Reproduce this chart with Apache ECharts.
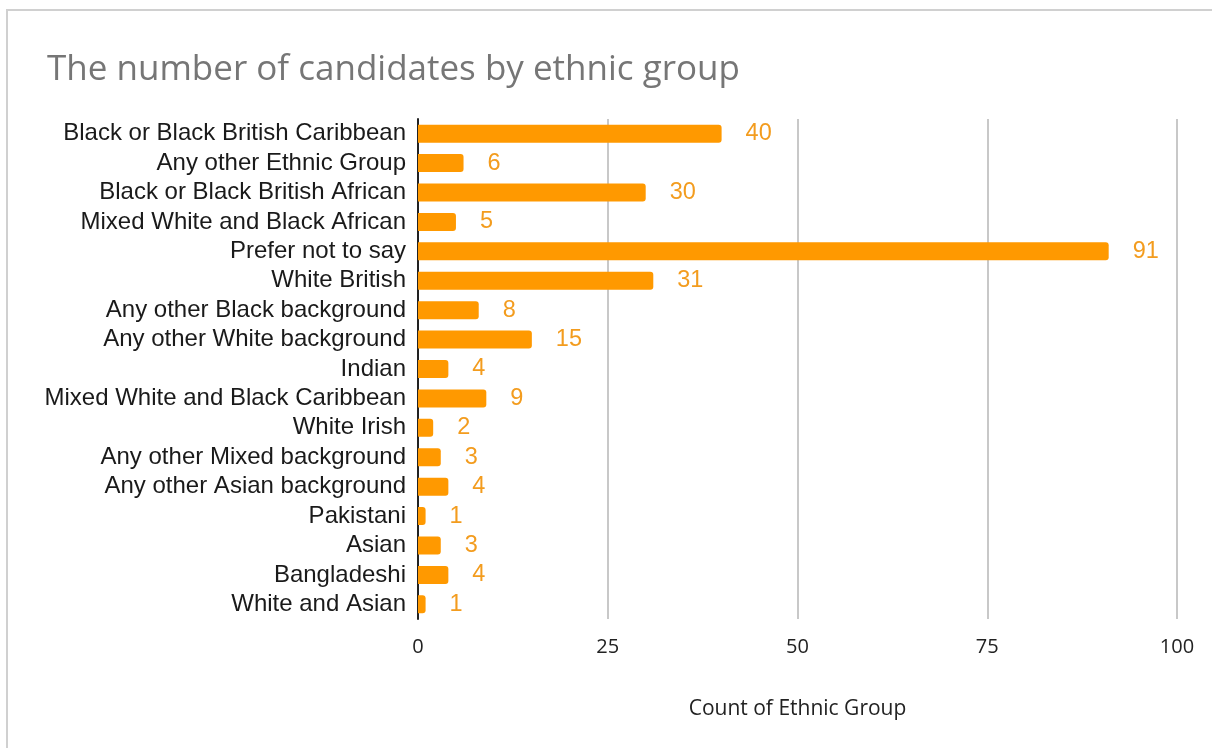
<!DOCTYPE html>
<html>
<head>
<meta charset="utf-8">
<script src="https://cdn.jsdelivr.net/npm/echarts@6/dist/echarts.min.js"></script>
<style>
    html, body { margin: 0; padding: 0; background: #fff; overflow: hidden; }
    #frame { position: absolute; left: 6px; top: 9px; width: 1300px; height: 800px; border-top: 2px solid #d0d0d0; border-left: 2px solid #d0d0d0; }
    #main { position: absolute; left: 0; top: 0; width: 1212px; height: 748px; }
</style>
</head>
<body>
<div id="frame"></div>
<div id="main"></div>
<script>
// 类别（从上到下）
var groups = [
    'Black or Black British Caribbean', 'Any other Ethnic Group', 'Black or Black British African',
    'Mixed White and Black African', 'Prefer not to say', 'White British', 'Any other Black background',
    'Any other White background', 'Indian', 'Mixed White and Black Caribbean', 'White Irish',
    'Any other Mixed background', 'Any other Asian background', 'Pakistani', 'Asian', 'Bangladeshi',
    'White and Asian'
];
var counts = [40, 6, 30, 5, 91, 31, 8, 15, 4, 9, 2, 3, 4, 1, 3, 4, 1];
var xTicks = [0, 25, 50, 75, 100];

var chart = echarts.init(document.getElementById('main'));

var option = {
    animation: false,
    title: {
        text: 'The number of candidates by ethnic group',
        left: 42,
        top: 48,
        textStyle: {
            fontFamily: 'Open Sans',
            fontSize: 35,
            fontWeight: 'normal',
            color: '#767676'
        }
    },
    grid: {
        left: 418,
        right: 35,
        top: 119,
        bottom: 129,
        containLabel: false
    },
    xAxis: {
        type: 'value',
        min: xTicks[0],
        max: xTicks[xTicks.length - 1],
        interval: 25,
        name: 'Count of Ethnic Group',
        nameLocation: 'middle',
        nameGap: 80,
        nameTextStyle: { fontFamily: 'Open Sans', fontSize: 21, color: '#222' },
        axisLine: { show: false },
        axisTick: { show: false },
        axisLabel: { fontFamily: 'Open Sans', fontSize: 20, color: '#222', margin: 18 },
        splitLine: { show: true, lineStyle: { color: '#c8c8c8', width: 2 } }
    },
    yAxis: {
        type: 'category',
        inverse: true,
        data: groups,
        axisLine: { show: true, lineStyle: { color: '#222', width: 2 } },
        axisTick: { show: false },
        axisLabel: { interval: 0, fontFamily: 'Arial', fontSize: 24, color: '#1a1a1a', margin: 12 }
    },
    series: [
        {
            type: 'bar',
            data: counts,
            barWidth: 18,
            itemStyle: { color: '#ff9900', borderRadius: [0, 3, 3, 0] },
            label: {
                show: true,
                position: 'right',
                distance: 24,
                fontFamily: 'Arial',
                fontSize: 23.5,
                color: '#f39c1e'
            }
        }
    ]
};

chart.setOption(option);
</script>
</body>
</html>
